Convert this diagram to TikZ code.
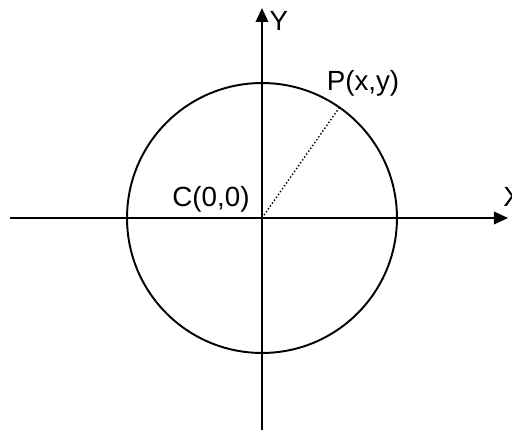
\documentclass[tikz,border=0pt]{standalone}
\usepackage{fontspec}
\setmainfont{Liberation Sans}
\usetikzlibrary{arrows.meta}

\begin{document}
\begin{tikzpicture}[
  x=0.02cm, y=0.02cm,
  axis/.style={line width=1.1pt, -{Triangle[length=0.28cm, width=0.25cm]}},
  ring/.style={line width=1.1pt},
  radius line/.style={line width=0.8pt, dash pattern=on 0.8pt off 1.2pt},
  label/.style={inner sep=0pt, font=\fontsize{15.8}{18}\selectfont}
]
  \useasboundingbox (-262,-212) rectangle (250,218);

  \coordinate (c) at (0,0);
  \coordinate (xl) at (-252,0);
  \coordinate (xr) at (246,0);
  \coordinate (yb) at (0,-212);
  \coordinate (yt) at (0,210);
  \coordinate (p) at (55:2.7cm);

  \draw[ring] (c) circle [radius=2.7cm];
  \draw[axis] (xl) -- (xr);
  \draw[axis] (yb) -- (yt);
  \draw[radius line] (c) -- (p);

  \node[label, anchor=west] (xlab) at (241,21) {X};
  \node[label] (ylab) at (17,197) {Y};
  \node[label] (plab) at (101,135) {P(x,y)};
  \node[label] (clab) at (-51,19) {C(0,0)};
\end{tikzpicture}
\end{document}
